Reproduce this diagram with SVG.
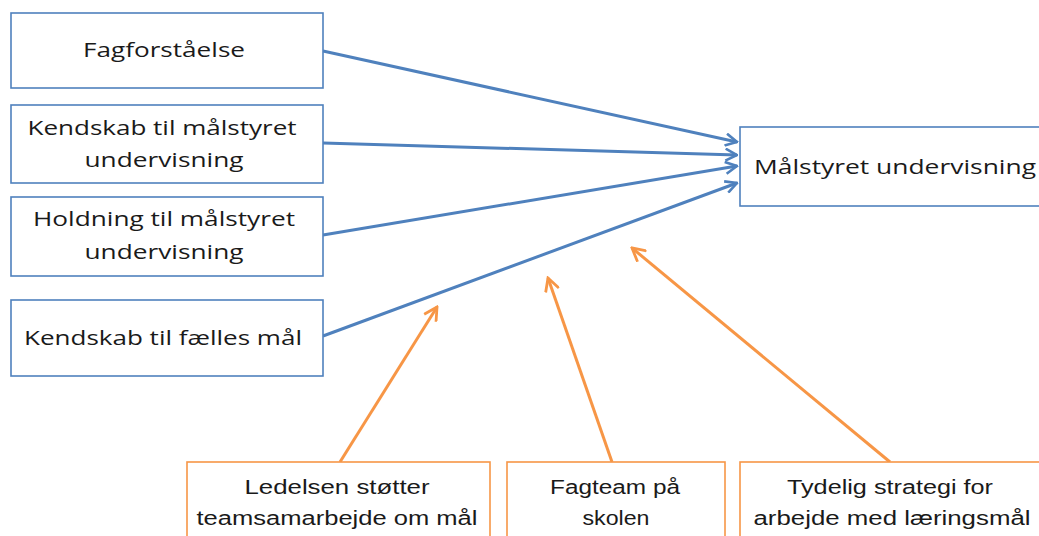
<svg xmlns="http://www.w3.org/2000/svg" width="1039" height="536" viewBox="0 0 1039 536">
<defs>
<style>
.bb{fill:#fff;stroke:#4F81BD;stroke-width:1.6}
.ob{fill:#fff;stroke:#F79646;stroke-width:1.6}
.t{font-family:"Open Sans","Liberation Sans",sans-serif;font-size:20px;fill:#1a1a1a;text-anchor:middle}
.tn{font-family:"Liberation Sans Narrow","Liberation Sans",sans-serif;font-size:20px;fill:#1a1a1a;text-anchor:middle}
.bl{stroke:#4F81BD;stroke-width:3;fill:none}
.ol{stroke:#F79646;stroke-width:3;fill:none}
</style>
<marker id="ab" viewBox="0 0 14 14" refX="12.5" refY="7" markerWidth="14" markerHeight="14" markerUnits="userSpaceOnUse" orient="auto">
<path d="M1,1 L12.5,7 L1,13" fill="none" stroke="#4F81BD" stroke-width="2.6"/>
</marker>
<marker id="ao" viewBox="0 0 16 16" refX="14" refY="8" markerWidth="16" markerHeight="16" markerUnits="userSpaceOnUse" orient="auto">
<path d="M1,1 L14,8 L1,15" fill="none" stroke="#F79646" stroke-width="2.8"/>
</marker>
</defs>
<rect width="1039" height="536" fill="#fff"/>
<g id="connectors">
<line class="bl" x1="323" y1="51" x2="737" y2="142" marker-end="url(#ab)"/>
<line class="bl" x1="323" y1="143" x2="737" y2="155" marker-end="url(#ab)"/>
<line class="bl" x1="323" y1="235" x2="737" y2="166" marker-end="url(#ab)"/>
<line class="bl" x1="323" y1="336" x2="737" y2="183" marker-end="url(#ab)"/>
<line class="ol" x1="340" y1="462" x2="437" y2="307" marker-end="url(#ao)"/>
<line class="ol" x1="612" y1="462" x2="548" y2="278" marker-end="url(#ao)"/>
<line class="ol" x1="890" y1="462" x2="632" y2="248" marker-end="url(#ao)"/>
</g>
<g id="n1"><rect class="bb" x="11" y="13" width="312" height="75"/><text class="t" x="164" y="57" textLength="162" lengthAdjust="spacingAndGlyphs">Fagforståelse</text></g>
<g id="n2"><rect class="bb" x="11" y="105" width="312" height="78"/><text class="t" x="162" y="135" textLength="269" lengthAdjust="spacingAndGlyphs">Kendskab til målstyret</text><text class="t" x="164" y="167" textLength="159" lengthAdjust="spacingAndGlyphs">undervisning</text></g>
<g id="n3"><rect class="bb" x="11" y="197" width="312" height="79"/><text class="t" x="164" y="226" textLength="262" lengthAdjust="spacingAndGlyphs">Holdning til målstyret</text><text class="t" x="164" y="259" textLength="159" lengthAdjust="spacingAndGlyphs">undervisning</text></g>
<g id="n4"><rect class="bb" x="11" y="300" width="312" height="76"/><text class="t" x="163" y="345" textLength="278" lengthAdjust="spacingAndGlyphs">Kendskab til fælles mål</text></g>
<g id="n5"><rect class="bb" x="740" y="127" width="320" height="79"/><text class="t" x="895" y="174" textLength="282" lengthAdjust="spacingAndGlyphs">Målstyret undervisning</text></g>
<g id="n6"><rect class="ob" x="187" y="462" width="303" height="100"/><text class="tn" x="337" y="494" textLength="185" lengthAdjust="spacingAndGlyphs">Ledelsen støtter</text><text class="tn" x="337" y="525" textLength="281" lengthAdjust="spacingAndGlyphs">teamsamarbejde om mål</text></g>
<g id="n7"><rect class="ob" x="507" y="462" width="218" height="100"/><text class="tn" x="615" y="494" textLength="130" lengthAdjust="spacingAndGlyphs">Fagteam på</text><text class="tn" x="616" y="525" textLength="67" lengthAdjust="spacingAndGlyphs">skolen</text></g>
<g id="n8"><rect class="ob" x="740" y="462" width="320" height="100"/><text class="tn" x="890" y="494" textLength="206" lengthAdjust="spacingAndGlyphs">Tydelig strategi for</text><text class="tn" x="892" y="525" textLength="277" lengthAdjust="spacingAndGlyphs">arbejde med læringsmål</text></g>
</svg>
